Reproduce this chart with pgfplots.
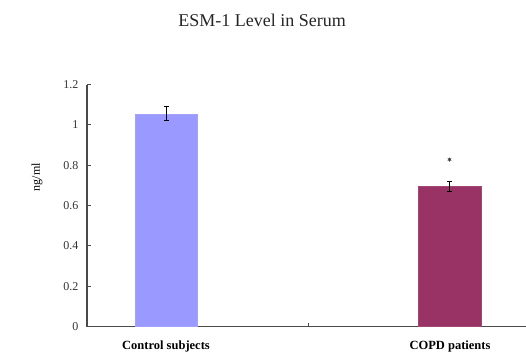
\documentclass[border=0pt]{standalone}
\usepackage{pgfplots}
\pgfplotsset{compat=1.18}
\usepackage{fontspec}
\setmainfont{Liberation Serif}
\definecolor{barA}{HTML}{9999FF}
\definecolor{barB}{HTML}{993366}
\definecolor{axgray}{HTML}{4A4A4A}
\begin{document}
\begin{tikzpicture}[x=1pt,y=1pt]
\path[use as bounding box] (0,0) rectangle (526,354);
\begin{axis}[
  at={(87pt,27.5pt)}, anchor=origin,
  scale only axis, width=439pt, height=242pt,
  xmin=87, xmax=526, ymin=0, ymax=1.2,
  axis x line*=bottom, axis y line*=left,
  axis line style={axgray, line width=1.3pt},
  ytick={0,0.2,0.4,0.6,0.8,1,1.2},
  yticklabels={0,0.2,0.4,0.6,0.8,1,1.2},
  ytick style={axgray, line width=1pt},
  tick align=inside, major tick length=4pt,
  yticklabel style={font=\fontsize{12}{13}\selectfont, text=black!80, xshift=-5pt},
  xtick={308}, xticklabels={},
  xtick style={axgray, line width=1pt},
  extra x ticks={166,450},
  extra x tick labels={\textbf{Control subjects},\textbf{COPD patients}},
  extra x tick style={major tick length=0pt, xticklabel style={font=\fontsize{12.5}{14}\selectfont, yshift=-11pt}},
  clip=false,
]
\addplot[ybar, bar width=62, fill=barA, draw=barA!90!white, bar shift=0,
  error bars/.cd, y dir=both, y explicit, error bar style={black, line width=0.8pt}, error mark options={rotate=90, mark size=2.5pt, line width=0.8pt}]
  coordinates {(166,1.055) +- (0,0.035)};
\addplot[ybar, bar width=63, fill=barB, draw=barB!90!white, bar shift=0,
  error bars/.cd, y dir=both, y explicit, error bar style={black, line width=0.8pt}, error mark options={rotate=90, mark size=2.5pt, line width=0.8pt}]
  coordinates {(449.5,0.695) +- (0,0.025)};
\addplot[only marks, mark=asterisk, mark size=2pt, line width=0.8pt, color=black!75] coordinates {(449.5,0.828)};
\end{axis}
\node[font=\fontsize{12}{13}\selectfont, rotate=90] at (37,177) {ng/ml};
\node[font=\fontsize{18}{20}\selectfont, text=black!85] at (262,334) {ESM-1 Level in Serum};
\end{tikzpicture}
\end{document}
